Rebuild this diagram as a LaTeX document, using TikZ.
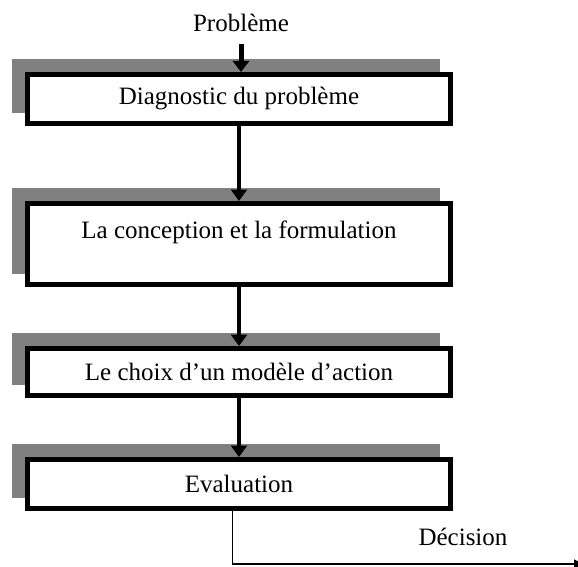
\documentclass[tikz,border=0pt]{standalone}
\usepackage{fontspec}
\setmainfont{Liberation Serif}
\usetikzlibrary{arrows.meta,backgrounds}

\definecolor{shadowgray}{RGB}{128,128,128}

\tikzset{
  stepbox/.style={draw=black, fill=white, line width=5pt, rectangle,
    minimum width=423pt, inner sep=0pt, font=\fontsize{25}{30}\selectfont},
  label text/.style={font=\fontsize{25}{30}\selectfont},
  flow/.style={line width=3.5pt, -{Triangle[width=16pt,length=11.5pt]}},
  inflow/.style={line width=5pt, -{Triangle[width=16pt,length=11pt]}},
  outflow/.style={line width=1.8pt, -{Triangle[width=9pt,length=9pt]}},
  boxshadow/.style={fill=shadowgray},
}

\begin{document}
\begin{tikzpicture}[x=1pt,y=-1pt]
  \useasboundingbox (0,0) rectangle (578,567);

  % input label
  \node[label text] (prob) at (241,22.5) {Problème};

  % the four stages
  \node[stepbox, minimum height=49pt] (b1) at (239,99) {Diagnostic du problème};
  \node[stepbox, minimum height=81pt, text height=17pt, text depth=28.4pt] (b2) at (239,244)
    {La conception et la formulation};
  \node[stepbox, minimum height=47pt] (b3) at (239,372) {Le choix d’un modèle d’action};
  \node[stepbox, minimum height=49pt] (b4) at (239,484) {Evaluation};

  % drop shadows, up and to the left of each stage
  \begin{scope}[on background layer]
    \foreach \b in {b1,b2,b3,b4}
      \fill[boxshadow] ([shift={(-13pt,13pt)}]\b.north west)
        rectangle ([shift={(-13pt,13pt)}]\b.south east);
  \end{scope}

  % connectors
  \draw[inflow, shorten <=9pt] (prob.south) -- (prob.south |- b1.north);
  \draw[flow] (b1.south) -- (b2.north);
  \draw[flow] (b2.south) -- (b3.north);
  \draw[flow] (b3.south) -- (b4.north);

  % output
  \coordinate (dend) at (583,564);
  \draw[outflow] ([xshift=-6.5pt]b4.south) |- (dend);
  \node[label text] (dec) at (463,537) {Décision};
\end{tikzpicture}
\end{document}
